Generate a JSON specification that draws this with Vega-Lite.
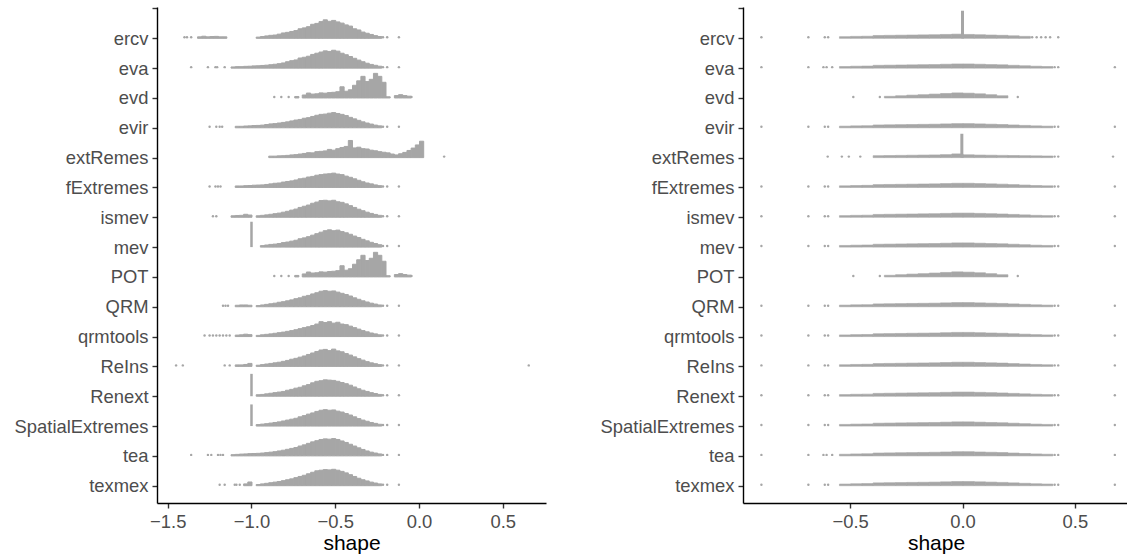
{
"$schema": "https://vega.github.io/schema/vega-lite/v6.json",
"background": "white",
"padding": {"left": 14, "top": 7, "right": 0, "bottom": 0},
"spacing": 54,
"config": {
 "view": {"stroke": null},
 "font": "Liberation Sans",
 "axis": {"grid": false, "domainColor": "#000000", "domainWidth": 1.4, "tickColor": "#333333", "tickWidth": 1.4, "tickSize": 5, "labelColor": "#4D4D4D", "labelFontSize": 18.4, "labelPadding": 4, "titleFontSize": 21, "titleColor": "#000000", "titleFontWeight": "normal", "titlePadding": 2},
 "axisY": {"values": [1,2,3,4,5,6,7,8,9,10,11,12,13,14,15,16], "labelExpr": "['ercv','eva','evd','evir','extRemes','fExtremes','ismev','mev','POT','QRM','qrmtools','ReIns','Renext','SpatialExtremes','tea','texmex'][datum.value-1]"}
},
"datasets": {
"L": [
{"p":"ercv","x":-1.325,"n":1},{"p":"ercv","x":-1.3,"n":1.4},{"p":"ercv","x":-1.275,"n":1},{"p":"ercv","x":-1.25,"n":1.2},{"p":"ercv","x":-1.225,"n":1.3},{"p":"ercv","x":-1.2,"n":1},{"p":"ercv","x":-1.175,"n":1},
{"p":"ercv","x":-0.975,"n":0.8},{"p":"ercv","x":-0.95,"n":1.2},{"p":"ercv","x":-0.925,"n":1.6},{"p":"ercv","x":-0.9,"n":2},{"p":"ercv","x":-0.875,"n":2.2},{"p":"ercv","x":-0.85,"n":2.8},{"p":"ercv","x":-0.825,"n":3.6},{"p":"ercv","x":-0.8,"n":4},{"p":"ercv","x":-0.775,"n":4.6},{"p":"ercv","x":-0.75,"n":5.2},{"p":"ercv","x":-0.725,"n":6.4},{"p":"ercv","x":-0.7,"n":7},{"p":"ercv","x":-0.675,"n":7.8},{"p":"ercv","x":-0.65,"n":9.4},{"p":"ercv","x":-0.625,"n":10},{"p":"ercv","x":-0.6,"n":11.2},{"p":"ercv","x":-0.575,"n":12.4},{"p":"ercv","x":-0.55,"n":11.4},{"p":"ercv","x":-0.525,"n":12},{"p":"ercv","x":-0.5,"n":11},{"p":"ercv","x":-0.475,"n":10.2},{"p":"ercv","x":-0.45,"n":9},{"p":"ercv","x":-0.425,"n":8.2},{"p":"ercv","x":-0.4,"n":6.4},{"p":"ercv","x":-0.375,"n":5.6},{"p":"ercv","x":-0.35,"n":4.2},{"p":"ercv","x":-0.325,"n":3.4},{"p":"ercv","x":-0.3,"n":2.6},{"p":"ercv","x":-0.275,"n":1.8},{"p":"ercv","x":-0.25,"n":1.2},
{"p":"eva","x":-1.125,"n":0.8},{"p":"eva","x":-1.1,"n":1},{"p":"eva","x":-1.075,"n":1},{"p":"eva","x":-1.05,"n":1.2},{"p":"eva","x":-1.025,"n":1.3},{"p":"eva","x":-1.0,"n":1.5},
{"p":"eva","x":-0.975,"n":1.6},{"p":"eva","x":-0.95,"n":1.8},{"p":"eva","x":-0.925,"n":2},{"p":"eva","x":-0.9,"n":2.3},{"p":"eva","x":-0.875,"n":2.6},{"p":"eva","x":-0.85,"n":3},{"p":"eva","x":-0.825,"n":3.5},{"p":"eva","x":-0.8,"n":4.3},{"p":"eva","x":-0.775,"n":5},{"p":"eva","x":-0.75,"n":5.5},{"p":"eva","x":-0.725,"n":6.8},{"p":"eva","x":-0.7,"n":7.3},{"p":"eva","x":-0.675,"n":8},{"p":"eva","x":-0.65,"n":9.2},{"p":"eva","x":-0.625,"n":10},{"p":"eva","x":-0.6,"n":10.8},{"p":"eva","x":-0.575,"n":11.6},{"p":"eva","x":-0.55,"n":11.2},{"p":"eva","x":-0.525,"n":12},{"p":"eva","x":-0.5,"n":11.4},{"p":"eva","x":-0.475,"n":10},{"p":"eva","x":-0.45,"n":9},{"p":"eva","x":-0.425,"n":7.8},{"p":"eva","x":-0.4,"n":6.6},{"p":"eva","x":-0.375,"n":5.4},{"p":"eva","x":-0.35,"n":4.3},{"p":"eva","x":-0.325,"n":3.3},{"p":"eva","x":-0.3,"n":2.5},{"p":"eva","x":-0.275,"n":1.9},{"p":"eva","x":-0.25,"n":1.3},
{"p":"evd","x":-0.745,"n":1},{"p":"evd","x":-0.7,"n":2},{"p":"evd","x":-0.675,"n":3.3},{"p":"evd","x":-0.65,"n":2.6},{"p":"evd","x":-0.625,"n":2.8},{"p":"evd","x":-0.6,"n":3.4},{"p":"evd","x":-0.575,"n":3.2},{"p":"evd","x":-0.55,"n":3.6},{"p":"evd","x":-0.525,"n":3.8},{"p":"evd","x":-0.5,"n":4.2},{"p":"evd","x":-0.475,"n":7.5},{"p":"evd","x":-0.45,"n":4.5},{"p":"evd","x":-0.425,"n":5.5},{"p":"evd","x":-0.4,"n":8.5},{"p":"evd","x":-0.375,"n":11.5},{"p":"evd","x":-0.35,"n":14.5},{"p":"evd","x":-0.325,"n":11},{"p":"evd","x":-0.3,"n":12.5},{"p":"evd","x":-0.275,"n":16.5},{"p":"evd","x":-0.25,"n":14.5},{"p":"evd","x":-0.225,"n":10.5},{"p":"evd","x":-0.2,"n":0.8},{"p":"evd","x":-0.15,"n":1.6},{"p":"evd","x":-0.125,"n":2.2},{"p":"evd","x":-0.1,"n":1.6},{"p":"evd","x":-0.075,"n":1.2},
{"p":"evir","x":-1.1,"n":1},{"p":"evir","x":-1.075,"n":1},{"p":"evir","x":-1.05,"n":1.2},{"p":"evir","x":-1.025,"n":1.3},{"p":"evir","x":-1.0,"n":1.5},
{"p":"evir","x":-0.975,"n":1.6},{"p":"evir","x":-0.95,"n":1.8},{"p":"evir","x":-0.925,"n":2.2},{"p":"evir","x":-0.9,"n":2.6},{"p":"evir","x":-0.875,"n":2.8},{"p":"evir","x":-0.85,"n":3.2},{"p":"evir","x":-0.825,"n":3.6},{"p":"evir","x":-0.8,"n":4},{"p":"evir","x":-0.775,"n":4.6},{"p":"evir","x":-0.75,"n":5.2},{"p":"evir","x":-0.725,"n":5.6},{"p":"evir","x":-0.7,"n":6.4},{"p":"evir","x":-0.675,"n":6.8},{"p":"evir","x":-0.65,"n":7.6},{"p":"evir","x":-0.625,"n":8.4},{"p":"evir","x":-0.6,"n":9},{"p":"evir","x":-0.575,"n":9.2},{"p":"evir","x":-0.55,"n":9.8},{"p":"evir","x":-0.525,"n":10.2},{"p":"evir","x":-0.5,"n":9.6},{"p":"evir","x":-0.475,"n":9},{"p":"evir","x":-0.45,"n":8.2},{"p":"evir","x":-0.425,"n":7},{"p":"evir","x":-0.4,"n":6},{"p":"evir","x":-0.375,"n":5},{"p":"evir","x":-0.35,"n":4},{"p":"evir","x":-0.325,"n":3.2},{"p":"evir","x":-0.3,"n":2.5},{"p":"evir","x":-0.275,"n":1.8},{"p":"evir","x":-0.25,"n":1.3},
{"p":"extRemes","x":-0.9,"n":1},{"p":"extRemes","x":-0.875,"n":1},{"p":"extRemes","x":-0.85,"n":1.2},{"p":"extRemes","x":-0.825,"n":1.3},{"p":"extRemes","x":-0.8,"n":1.5},{"p":"extRemes","x":-0.775,"n":1.8},{"p":"extRemes","x":-0.75,"n":2},{"p":"extRemes","x":-0.725,"n":2.4},{"p":"extRemes","x":-0.7,"n":2.8},{"p":"extRemes","x":-0.675,"n":3.3},{"p":"extRemes","x":-0.65,"n":3.2},{"p":"extRemes","x":-0.625,"n":4},{"p":"extRemes","x":-0.6,"n":4.2},{"p":"extRemes","x":-0.575,"n":4.5},{"p":"extRemes","x":-0.55,"n":5.5},{"p":"extRemes","x":-0.525,"n":5},{"p":"extRemes","x":-0.5,"n":6},{"p":"extRemes","x":-0.475,"n":6.8},{"p":"extRemes","x":-0.45,"n":7.5},{"p":"extRemes","x":-0.425,"n":11.5},{"p":"extRemes","x":-0.4,"n":6.5},{"p":"extRemes","x":-0.375,"n":7},{"p":"extRemes","x":-0.35,"n":6},{"p":"extRemes","x":-0.325,"n":5.8},{"p":"extRemes","x":-0.3,"n":5},{"p":"extRemes","x":-0.275,"n":4.6},{"p":"extRemes","x":-0.25,"n":4},{"p":"extRemes","x":-0.225,"n":3.6},{"p":"extRemes","x":-0.2,"n":3.2},{"p":"extRemes","x":-0.175,"n":2.4},{"p":"extRemes","x":-0.15,"n":1.8},{"p":"extRemes","x":-0.125,"n":2.6},{"p":"extRemes","x":-0.1,"n":3.5},{"p":"extRemes","x":-0.075,"n":4.8},{"p":"extRemes","x":-0.05,"n":6.4},{"p":"extRemes","x":-0.025,"n":8.5},{"p":"extRemes","x":0.0,"n":11},
{"p":"fExtremes","x":-1.1,"n":1},{"p":"fExtremes","x":-1.075,"n":1},{"p":"fExtremes","x":-1.05,"n":1.2},{"p":"fExtremes","x":-1.025,"n":1.3},{"p":"fExtremes","x":-1.0,"n":1.5},
{"p":"fExtremes","x":-0.975,"n":1.6},{"p":"fExtremes","x":-0.95,"n":1.7},{"p":"fExtremes","x":-0.925,"n":2},{"p":"fExtremes","x":-0.9,"n":2.4},{"p":"fExtremes","x":-0.875,"n":2.8},{"p":"fExtremes","x":-0.85,"n":3},{"p":"fExtremes","x":-0.825,"n":3.6},{"p":"fExtremes","x":-0.8,"n":4},{"p":"fExtremes","x":-0.775,"n":4.4},{"p":"fExtremes","x":-0.75,"n":5},{"p":"fExtremes","x":-0.725,"n":5.8},{"p":"fExtremes","x":-0.7,"n":6.2},{"p":"fExtremes","x":-0.675,"n":7},{"p":"fExtremes","x":-0.65,"n":7.4},{"p":"fExtremes","x":-0.625,"n":8.2},{"p":"fExtremes","x":-0.6,"n":8.6},{"p":"fExtremes","x":-0.575,"n":9},{"p":"fExtremes","x":-0.55,"n":9.2},{"p":"fExtremes","x":-0.525,"n":9.6},{"p":"fExtremes","x":-0.5,"n":9},{"p":"fExtremes","x":-0.475,"n":8.6},{"p":"fExtremes","x":-0.45,"n":7.6},{"p":"fExtremes","x":-0.425,"n":6.8},{"p":"fExtremes","x":-0.4,"n":5.8},{"p":"fExtremes","x":-0.375,"n":4.8},{"p":"fExtremes","x":-0.35,"n":3.8},{"p":"fExtremes","x":-0.325,"n":3},{"p":"fExtremes","x":-0.3,"n":2.4},{"p":"fExtremes","x":-0.275,"n":1.7},{"p":"fExtremes","x":-0.25,"n":1.2},
{"p":"ismev","x":-1.125,"n":1},{"p":"ismev","x":-1.1,"n":1.2},{"p":"ismev","x":-1.075,"n":1.3},{"p":"ismev","x":-1.05,"n":2},{"p":"ismev","x":-1.025,"n":1.5},
{"p":"ismev","x":-0.975,"n":1},{"p":"ismev","x":-0.95,"n":1.3},{"p":"ismev","x":-0.925,"n":1.6},{"p":"ismev","x":-0.9,"n":2},{"p":"ismev","x":-0.875,"n":2.4},{"p":"ismev","x":-0.85,"n":2.8},{"p":"ismev","x":-0.825,"n":3.4},{"p":"ismev","x":-0.8,"n":4},{"p":"ismev","x":-0.775,"n":4.8},{"p":"ismev","x":-0.75,"n":5.5},{"p":"ismev","x":-0.725,"n":6.6},{"p":"ismev","x":-0.7,"n":7.4},{"p":"ismev","x":-0.675,"n":8.2},{"p":"ismev","x":-0.65,"n":9.4},{"p":"ismev","x":-0.625,"n":10.2},{"p":"ismev","x":-0.6,"n":11.2},{"p":"ismev","x":-0.575,"n":11.4},{"p":"ismev","x":-0.55,"n":11},{"p":"ismev","x":-0.525,"n":11.4},{"p":"ismev","x":-0.5,"n":10.4},{"p":"ismev","x":-0.475,"n":10},{"p":"ismev","x":-0.45,"n":9},{"p":"ismev","x":-0.425,"n":7.8},{"p":"ismev","x":-0.4,"n":6.6},{"p":"ismev","x":-0.375,"n":5.4},{"p":"ismev","x":-0.35,"n":4.4},{"p":"ismev","x":-0.325,"n":3.4},{"p":"ismev","x":-0.3,"n":2.6},{"p":"ismev","x":-0.275,"n":1.9},{"p":"ismev","x":-0.25,"n":1.3},
{"p":"mev","x":-0.95,"n":1},{"p":"mev","x":-0.925,"n":1.4},{"p":"mev","x":-0.9,"n":1.8},{"p":"mev","x":-0.875,"n":2},{"p":"mev","x":-0.85,"n":2.4},{"p":"mev","x":-0.825,"n":3},{"p":"mev","x":-0.8,"n":3.4},{"p":"mev","x":-0.775,"n":4},{"p":"mev","x":-0.75,"n":4.6},{"p":"mev","x":-0.725,"n":5.6},{"p":"mev","x":-0.7,"n":6.2},{"p":"mev","x":-0.675,"n":7},{"p":"mev","x":-0.65,"n":8},{"p":"mev","x":-0.625,"n":9},{"p":"mev","x":-0.6,"n":10},{"p":"mev","x":-0.575,"n":11},{"p":"mev","x":-0.55,"n":11.6},{"p":"mev","x":-0.525,"n":11},{"p":"mev","x":-0.5,"n":11.4},{"p":"mev","x":-0.475,"n":10.4},{"p":"mev","x":-0.45,"n":9.6},{"p":"mev","x":-0.425,"n":8.6},{"p":"mev","x":-0.4,"n":7.4},{"p":"mev","x":-0.375,"n":6.4},{"p":"mev","x":-0.35,"n":5.2},{"p":"mev","x":-0.325,"n":4.2},{"p":"mev","x":-0.3,"n":3.2},{"p":"mev","x":-0.275,"n":2.4},{"p":"mev","x":-0.25,"n":1.6},
{"p":"POT","x":-0.745,"n":1},{"p":"POT","x":-0.7,"n":2},{"p":"POT","x":-0.675,"n":3.3},{"p":"POT","x":-0.65,"n":2.6},{"p":"POT","x":-0.625,"n":2.8},{"p":"POT","x":-0.6,"n":3.4},{"p":"POT","x":-0.575,"n":3.2},{"p":"POT","x":-0.55,"n":3.6},{"p":"POT","x":-0.525,"n":3.8},{"p":"POT","x":-0.5,"n":4.2},{"p":"POT","x":-0.475,"n":7.5},{"p":"POT","x":-0.45,"n":4.5},{"p":"POT","x":-0.425,"n":5.5},{"p":"POT","x":-0.4,"n":8.5},{"p":"POT","x":-0.375,"n":11.5},{"p":"POT","x":-0.35,"n":14.5},{"p":"POT","x":-0.325,"n":11},{"p":"POT","x":-0.3,"n":12.5},{"p":"POT","x":-0.275,"n":16.5},{"p":"POT","x":-0.25,"n":14.5},{"p":"POT","x":-0.225,"n":10.5},{"p":"POT","x":-0.2,"n":0.8},{"p":"POT","x":-0.15,"n":1.6},{"p":"POT","x":-0.125,"n":2.2},{"p":"POT","x":-0.1,"n":1.6},{"p":"POT","x":-0.075,"n":1.2},
{"p":"QRM","x":-1.1,"n":1},{"p":"QRM","x":-1.075,"n":1.2},{"p":"QRM","x":-1.05,"n":1.2},{"p":"QRM","x":-1.025,"n":1},
{"p":"QRM","x":-0.975,"n":0.8},{"p":"QRM","x":-0.95,"n":1.2},{"p":"QRM","x":-0.925,"n":1.6},{"p":"QRM","x":-0.9,"n":2},{"p":"QRM","x":-0.875,"n":2.4},{"p":"QRM","x":-0.85,"n":3},{"p":"QRM","x":-0.825,"n":3.4},{"p":"QRM","x":-0.8,"n":4},{"p":"QRM","x":-0.775,"n":4.6},{"p":"QRM","x":-0.75,"n":5.4},{"p":"QRM","x":-0.725,"n":6},{"p":"QRM","x":-0.7,"n":7},{"p":"QRM","x":-0.675,"n":7.6},{"p":"QRM","x":-0.65,"n":8.6},{"p":"QRM","x":-0.625,"n":9.4},{"p":"QRM","x":-0.6,"n":10.4},{"p":"QRM","x":-0.575,"n":10.8},{"p":"QRM","x":-0.55,"n":10.4},{"p":"QRM","x":-0.525,"n":10.6},{"p":"QRM","x":-0.5,"n":9.8},{"p":"QRM","x":-0.475,"n":9},{"p":"QRM","x":-0.45,"n":8.2},{"p":"QRM","x":-0.425,"n":7.2},{"p":"QRM","x":-0.4,"n":6},{"p":"QRM","x":-0.375,"n":5},{"p":"QRM","x":-0.35,"n":4},{"p":"QRM","x":-0.325,"n":3.2},{"p":"QRM","x":-0.3,"n":2.4},{"p":"QRM","x":-0.275,"n":1.8},{"p":"QRM","x":-0.25,"n":1.2},
{"p":"qrmtools","x":-1.1,"n":1},{"p":"qrmtools","x":-1.075,"n":1.2},{"p":"qrmtools","x":-1.05,"n":1.6},{"p":"qrmtools","x":-1.025,"n":1.3},
{"p":"qrmtools","x":-0.975,"n":0.8},{"p":"qrmtools","x":-0.95,"n":1.2},{"p":"qrmtools","x":-0.925,"n":1.5},{"p":"qrmtools","x":-0.9,"n":1.8},{"p":"qrmtools","x":-0.875,"n":2.2},{"p":"qrmtools","x":-0.85,"n":2.6},{"p":"qrmtools","x":-0.825,"n":3},{"p":"qrmtools","x":-0.8,"n":3.5},{"p":"qrmtools","x":-0.775,"n":4},{"p":"qrmtools","x":-0.75,"n":4.6},{"p":"qrmtools","x":-0.725,"n":5.3},{"p":"qrmtools","x":-0.7,"n":6},{"p":"qrmtools","x":-0.675,"n":6.6},{"p":"qrmtools","x":-0.65,"n":7.4},{"p":"qrmtools","x":-0.625,"n":8.4},{"p":"qrmtools","x":-0.6,"n":10},{"p":"qrmtools","x":-0.575,"n":9.4},{"p":"qrmtools","x":-0.55,"n":10},{"p":"qrmtools","x":-0.525,"n":9},{"p":"qrmtools","x":-0.5,"n":9.6},{"p":"qrmtools","x":-0.475,"n":8.4},{"p":"qrmtools","x":-0.45,"n":8},{"p":"qrmtools","x":-0.425,"n":7},{"p":"qrmtools","x":-0.4,"n":6},{"p":"qrmtools","x":-0.375,"n":5},{"p":"qrmtools","x":-0.35,"n":4},{"p":"qrmtools","x":-0.325,"n":3.2},{"p":"qrmtools","x":-0.3,"n":2.4},{"p":"qrmtools","x":-0.275,"n":1.8},{"p":"qrmtools","x":-0.25,"n":1.2},
{"p":"ReIns","x":-1.1,"n":1},{"p":"ReIns","x":-1.075,"n":1},{"p":"ReIns","x":-1.05,"n":1.3},{"p":"ReIns","x":-1.025,"n":2},
{"p":"ReIns","x":-0.975,"n":0.8},{"p":"ReIns","x":-0.95,"n":1.2},{"p":"ReIns","x":-0.925,"n":1.6},{"p":"ReIns","x":-0.9,"n":2},{"p":"ReIns","x":-0.875,"n":2.4},{"p":"ReIns","x":-0.85,"n":2.8},{"p":"ReIns","x":-0.825,"n":3.4},{"p":"ReIns","x":-0.8,"n":4},{"p":"ReIns","x":-0.775,"n":4.8},{"p":"ReIns","x":-0.75,"n":5.4},{"p":"ReIns","x":-0.725,"n":6.2},{"p":"ReIns","x":-0.7,"n":7},{"p":"ReIns","x":-0.675,"n":8},{"p":"ReIns","x":-0.65,"n":9},{"p":"ReIns","x":-0.625,"n":10},{"p":"ReIns","x":-0.6,"n":11},{"p":"ReIns","x":-0.575,"n":11.4},{"p":"ReIns","x":-0.55,"n":10.6},{"p":"ReIns","x":-0.525,"n":11.6},{"p":"ReIns","x":-0.5,"n":10.4},{"p":"ReIns","x":-0.475,"n":9.8},{"p":"ReIns","x":-0.45,"n":8.6},{"p":"ReIns","x":-0.425,"n":7.6},{"p":"ReIns","x":-0.4,"n":6.4},{"p":"ReIns","x":-0.375,"n":5.2},{"p":"ReIns","x":-0.35,"n":4.2},{"p":"ReIns","x":-0.325,"n":3.2},{"p":"ReIns","x":-0.3,"n":2.4},{"p":"ReIns","x":-0.275,"n":1.8},{"p":"ReIns","x":-0.25,"n":1.2},
{"p":"Renext","x":-0.975,"n":1},{"p":"Renext","x":-0.95,"n":1.2},{"p":"Renext","x":-0.925,"n":1.6},{"p":"Renext","x":-0.9,"n":2},{"p":"Renext","x":-0.875,"n":2.4},{"p":"Renext","x":-0.85,"n":2.8},{"p":"Renext","x":-0.825,"n":3.2},{"p":"Renext","x":-0.8,"n":4},{"p":"Renext","x":-0.775,"n":4.6},{"p":"Renext","x":-0.75,"n":5.4},{"p":"Renext","x":-0.725,"n":6},{"p":"Renext","x":-0.7,"n":7},{"p":"Renext","x":-0.675,"n":7.8},{"p":"Renext","x":-0.65,"n":9},{"p":"Renext","x":-0.625,"n":10},{"p":"Renext","x":-0.6,"n":10.4},{"p":"Renext","x":-0.575,"n":11},{"p":"Renext","x":-0.55,"n":10.8},{"p":"Renext","x":-0.525,"n":10.6},{"p":"Renext","x":-0.5,"n":10},{"p":"Renext","x":-0.475,"n":9.2},{"p":"Renext","x":-0.45,"n":8.4},{"p":"Renext","x":-0.425,"n":7.4},{"p":"Renext","x":-0.4,"n":6.2},{"p":"Renext","x":-0.375,"n":5},{"p":"Renext","x":-0.35,"n":4},{"p":"Renext","x":-0.325,"n":3.2},{"p":"Renext","x":-0.3,"n":2.4},{"p":"Renext","x":-0.275,"n":1.8},{"p":"Renext","x":-0.25,"n":1.2},
{"p":"SpatialExtremes","x":-0.975,"n":1},{"p":"SpatialExtremes","x":-0.95,"n":1.3},{"p":"SpatialExtremes","x":-0.925,"n":1.6},{"p":"SpatialExtremes","x":-0.9,"n":2},{"p":"SpatialExtremes","x":-0.875,"n":2.4},{"p":"SpatialExtremes","x":-0.85,"n":2.8},{"p":"SpatialExtremes","x":-0.825,"n":3.4},{"p":"SpatialExtremes","x":-0.8,"n":4},{"p":"SpatialExtremes","x":-0.775,"n":4.6},{"p":"SpatialExtremes","x":-0.75,"n":5.2},{"p":"SpatialExtremes","x":-0.725,"n":6.2},{"p":"SpatialExtremes","x":-0.7,"n":7},{"p":"SpatialExtremes","x":-0.675,"n":8},{"p":"SpatialExtremes","x":-0.65,"n":8.8},{"p":"SpatialExtremes","x":-0.625,"n":9.8},{"p":"SpatialExtremes","x":-0.6,"n":10.6},{"p":"SpatialExtremes","x":-0.575,"n":11},{"p":"SpatialExtremes","x":-0.55,"n":10.6},{"p":"SpatialExtremes","x":-0.525,"n":10.8},{"p":"SpatialExtremes","x":-0.5,"n":10},{"p":"SpatialExtremes","x":-0.475,"n":9.4},{"p":"SpatialExtremes","x":-0.45,"n":8.4},{"p":"SpatialExtremes","x":-0.425,"n":7.4},{"p":"SpatialExtremes","x":-0.4,"n":6.2},{"p":"SpatialExtremes","x":-0.375,"n":5},{"p":"SpatialExtremes","x":-0.35,"n":4},{"p":"SpatialExtremes","x":-0.325,"n":3.2},{"p":"SpatialExtremes","x":-0.3,"n":2.4},{"p":"SpatialExtremes","x":-0.275,"n":1.8},{"p":"SpatialExtremes","x":-0.25,"n":1.2},
{"p":"tea","x":-1.125,"n":0.8},{"p":"tea","x":-1.1,"n":1},{"p":"tea","x":-1.075,"n":1.2},{"p":"tea","x":-1.05,"n":1.3},{"p":"tea","x":-1.025,"n":1.5},{"p":"tea","x":-1.0,"n":1.6},
{"p":"tea","x":-0.975,"n":1.7},{"p":"tea","x":-0.95,"n":1.9},{"p":"tea","x":-0.925,"n":2.2},{"p":"tea","x":-0.9,"n":2.5},{"p":"tea","x":-0.875,"n":2.8},{"p":"tea","x":-0.85,"n":3.3},{"p":"tea","x":-0.825,"n":3.8},{"p":"tea","x":-0.8,"n":4.4},{"p":"tea","x":-0.775,"n":5},{"p":"tea","x":-0.75,"n":5.6},{"p":"tea","x":-0.725,"n":6.6},{"p":"tea","x":-0.7,"n":7.4},{"p":"tea","x":-0.675,"n":8.4},{"p":"tea","x":-0.65,"n":9.4},{"p":"tea","x":-0.625,"n":10.2},{"p":"tea","x":-0.6,"n":11},{"p":"tea","x":-0.575,"n":11.4},{"p":"tea","x":-0.55,"n":11.2},{"p":"tea","x":-0.525,"n":11.6},{"p":"tea","x":-0.5,"n":11},{"p":"tea","x":-0.475,"n":10},{"p":"tea","x":-0.45,"n":9},{"p":"tea","x":-0.425,"n":7.8},{"p":"tea","x":-0.4,"n":6.6},{"p":"tea","x":-0.375,"n":5.4},{"p":"tea","x":-0.35,"n":4.3},{"p":"tea","x":-0.325,"n":3.3},{"p":"tea","x":-0.3,"n":2.5},{"p":"tea","x":-0.275,"n":1.9},{"p":"tea","x":-0.25,"n":1.3},
{"p":"texmex","x":-1.05,"n":1.2},{"p":"texmex","x":-1.025,"n":2.5},
{"p":"texmex","x":-0.975,"n":0.8},{"p":"texmex","x":-0.95,"n":1.2},{"p":"texmex","x":-0.925,"n":1.6},{"p":"texmex","x":-0.9,"n":2},{"p":"texmex","x":-0.875,"n":2.4},{"p":"texmex","x":-0.85,"n":2.8},{"p":"texmex","x":-0.825,"n":3.4},{"p":"texmex","x":-0.8,"n":4},{"p":"texmex","x":-0.775,"n":4.6},{"p":"texmex","x":-0.75,"n":5.4},{"p":"texmex","x":-0.725,"n":6.2},{"p":"texmex","x":-0.7,"n":7},{"p":"texmex","x":-0.675,"n":8},{"p":"texmex","x":-0.65,"n":9},{"p":"texmex","x":-0.625,"n":10},{"p":"texmex","x":-0.6,"n":10.4},{"p":"texmex","x":-0.575,"n":10.8},{"p":"texmex","x":-0.55,"n":10.6},{"p":"texmex","x":-0.525,"n":11},{"p":"texmex","x":-0.5,"n":10.4},{"p":"texmex","x":-0.475,"n":9.6},{"p":"texmex","x":-0.45,"n":8.6},{"p":"texmex","x":-0.425,"n":7.4},{"p":"texmex","x":-0.4,"n":6.2},{"p":"texmex","x":-0.375,"n":5},{"p":"texmex","x":-0.35,"n":4},{"p":"texmex","x":-0.325,"n":3.2},{"p":"texmex","x":-0.3,"n":2.4},{"p":"texmex","x":-0.275,"n":1.8},{"p":"texmex","x":-0.25,"n":1.2}
],
"LD": [
{"p":"ercv","x":-1.4},{"p":"ercv","x":-1.385},{"p":"ercv","x":-1.36},{"p":"ercv","x":-0.215},{"p":"ercv","x":-0.19},{"p":"ercv","x":-0.12},
{"p":"eva","x":-1.36},{"p":"eva","x":-1.26},{"p":"eva","x":-1.215},{"p":"eva","x":-1.205},{"p":"eva","x":-1.16},{"p":"eva","x":-0.215},{"p":"eva","x":-0.19},{"p":"eva","x":-0.12},
{"p":"evd","x":-0.864},{"p":"evd","x":-0.822},{"p":"evd","x":-0.778},{"p":"evd","x":-0.045},
{"p":"evir","x":-1.25},{"p":"evir","x":-1.21},{"p":"evir","x":-1.19},{"p":"evir","x":-1.175},{"p":"evir","x":-0.215},{"p":"evir","x":-0.19},{"p":"evir","x":-0.12},
{"p":"extRemes","x":0.15},
{"p":"fExtremes","x":-1.25},{"p":"fExtremes","x":-1.215},{"p":"fExtremes","x":-1.2},{"p":"fExtremes","x":-1.185},{"p":"fExtremes","x":-0.215},{"p":"fExtremes","x":-0.19},{"p":"fExtremes","x":-0.12},
{"p":"ismev","x":-1.23},{"p":"ismev","x":-1.21},{"p":"ismev","x":-0.215},{"p":"ismev","x":-0.19},{"p":"ismev","x":-0.12},
{"p":"mev","x":-0.215},{"p":"mev","x":-0.19},{"p":"mev","x":-0.12},
{"p":"POT","x":-0.864},{"p":"POT","x":-0.822},{"p":"POT","x":-0.778},{"p":"POT","x":-0.045},
{"p":"QRM","x":-1.17},{"p":"QRM","x":-1.155},{"p":"QRM","x":-1.14},{"p":"QRM","x":-0.215},{"p":"QRM","x":-0.19},{"p":"QRM","x":-0.12},
{"p":"qrmtools","x":-1.28},{"p":"qrmtools","x":-1.25},{"p":"qrmtools","x":-1.23},{"p":"qrmtools","x":-1.21},{"p":"qrmtools","x":-1.19},{"p":"qrmtools","x":-1.17},{"p":"qrmtools","x":-1.15},{"p":"qrmtools","x":-1.13},{"p":"qrmtools","x":-0.215},{"p":"qrmtools","x":-0.19},{"p":"qrmtools","x":-0.12},
{"p":"ReIns","x":-1.45},{"p":"ReIns","x":-1.41},{"p":"ReIns","x":-1.16},{"p":"ReIns","x":-1.13},{"p":"ReIns","x":-0.215},{"p":"ReIns","x":-0.19},{"p":"ReIns","x":-0.12},{"p":"ReIns","x":0.655},
{"p":"Renext","x":-0.215},{"p":"Renext","x":-0.19},{"p":"Renext","x":-0.12},
{"p":"SpatialExtremes","x":-0.215},{"p":"SpatialExtremes","x":-0.19},{"p":"SpatialExtremes","x":-0.12},
{"p":"tea","x":-1.36},{"p":"tea","x":-1.26},{"p":"tea","x":-1.24},{"p":"tea","x":-1.2},{"p":"tea","x":-1.185},{"p":"tea","x":-1.17},{"p":"tea","x":-0.215},{"p":"tea","x":-0.19},{"p":"tea","x":-0.12},
{"p":"texmex","x":-1.19},{"p":"texmex","x":-1.16},{"p":"texmex","x":-1.1},{"p":"texmex","x":-1.09},{"p":"texmex","x":-1.07},{"p":"texmex","x":-0.215},{"p":"texmex","x":-0.19},{"p":"texmex","x":-0.12}
],
"LS": [
{"p":"mev","x":-1.0,"n":17},{"p":"Renext","x":-1.0,"n":15},{"p":"SpatialExtremes","x":-1.0,"n":14.5}
],
"R": [
{"p":"ercv","x":-0.55,"n":1.1},{"p":"ercv","x":-0.5,"n":1.3},{"p":"ercv","x":-0.45,"n":1.4},{"p":"ercv","x":-0.4,"n":1.9},{"p":"ercv","x":-0.35,"n":2},{"p":"ercv","x":-0.3,"n":2.1},{"p":"ercv","x":-0.25,"n":2.2},{"p":"ercv","x":-0.2,"n":2.3},{"p":"ercv","x":-0.15,"n":2.4},{"p":"ercv","x":-0.1,"n":2.6},{"p":"ercv","x":-0.05,"n":2.8},{"p":"ercv","x":0,"n":2.6},{"p":"ercv","x":0.05,"n":2.4},{"p":"ercv","x":0.1,"n":2.2},{"p":"ercv","x":0.15,"n":2},{"p":"ercv","x":0.2,"n":1.7},{"p":"ercv","x":0.25,"n":1.3},
{"p":"eva","x":-0.55,"n":1.1},{"p":"eva","x":-0.5,"n":1.3},{"p":"eva","x":-0.45,"n":1.4},{"p":"eva","x":-0.4,"n":1.9},{"p":"eva","x":-0.35,"n":2},{"p":"eva","x":-0.3,"n":2.1},{"p":"eva","x":-0.25,"n":2.2},{"p":"eva","x":-0.2,"n":2.3},{"p":"eva","x":-0.15,"n":2.4},{"p":"eva","x":-0.1,"n":2.6},{"p":"eva","x":-0.05,"n":2.8},{"p":"eva","x":0,"n":2.8},{"p":"eva","x":0.05,"n":2.6},{"p":"eva","x":0.1,"n":2.4},{"p":"eva","x":0.15,"n":2.2},{"p":"eva","x":0.2,"n":1.9},{"p":"eva","x":0.25,"n":1.6},{"p":"eva","x":0.3,"n":1.3},{"p":"eva","x":0.35,"n":1.1},
{"p":"evd","x":-0.35,"n":1.1},{"p":"evd","x":-0.3,"n":1.5},{"p":"evd","x":-0.25,"n":1.9},{"p":"evd","x":-0.2,"n":2.2},{"p":"evd","x":-0.15,"n":2.6},{"p":"evd","x":-0.1,"n":3},{"p":"evd","x":-0.05,"n":3.4},{"p":"evd","x":0,"n":3.2},{"p":"evd","x":0.05,"n":2.8},{"p":"evd","x":0.1,"n":2.2},{"p":"evd","x":0.15,"n":1.5},
{"p":"evir","x":-0.55,"n":1.1},{"p":"evir","x":-0.5,"n":1.3},{"p":"evir","x":-0.45,"n":1.4},{"p":"evir","x":-0.4,"n":1.9},{"p":"evir","x":-0.35,"n":2},{"p":"evir","x":-0.3,"n":2.1},{"p":"evir","x":-0.25,"n":2.2},{"p":"evir","x":-0.2,"n":2.3},{"p":"evir","x":-0.15,"n":2.4},{"p":"evir","x":-0.1,"n":2.6},{"p":"evir","x":-0.05,"n":2.8},{"p":"evir","x":0,"n":2.8},{"p":"evir","x":0.05,"n":2.6},{"p":"evir","x":0.1,"n":2.4},{"p":"evir","x":0.15,"n":2.2},{"p":"evir","x":0.2,"n":1.9},{"p":"evir","x":0.25,"n":1.6},{"p":"evir","x":0.3,"n":1.3},{"p":"evir","x":0.35,"n":1.1},
{"p":"extRemes","x":-0.4,"n":1.3},{"p":"extRemes","x":-0.35,"n":1.4},{"p":"extRemes","x":-0.3,"n":1.5},{"p":"extRemes","x":-0.25,"n":1.6},{"p":"extRemes","x":-0.2,"n":1.7},{"p":"extRemes","x":-0.15,"n":1.8},{"p":"extRemes","x":-0.1,"n":2},{"p":"extRemes","x":-0.05,"n":2.5},{"p":"extRemes","x":0,"n":1.9},{"p":"extRemes","x":0.05,"n":1.7},{"p":"extRemes","x":0.1,"n":1.6},{"p":"extRemes","x":0.15,"n":1.5},{"p":"extRemes","x":0.2,"n":1.4},{"p":"extRemes","x":0.25,"n":1.3},{"p":"extRemes","x":0.3,"n":1.2},{"p":"extRemes","x":0.35,"n":1.1},
{"p":"fExtremes","x":-0.55,"n":1.1},{"p":"fExtremes","x":-0.5,"n":1.3},{"p":"fExtremes","x":-0.45,"n":1.4},{"p":"fExtremes","x":-0.4,"n":1.9},{"p":"fExtremes","x":-0.35,"n":2},{"p":"fExtremes","x":-0.3,"n":2.1},{"p":"fExtremes","x":-0.25,"n":2.2},{"p":"fExtremes","x":-0.2,"n":2.3},{"p":"fExtremes","x":-0.15,"n":2.4},{"p":"fExtremes","x":-0.1,"n":2.6},{"p":"fExtremes","x":-0.05,"n":2.8},{"p":"fExtremes","x":0,"n":2.8},{"p":"fExtremes","x":0.05,"n":2.6},{"p":"fExtremes","x":0.1,"n":2.4},{"p":"fExtremes","x":0.15,"n":2.2},{"p":"fExtremes","x":0.2,"n":1.9},{"p":"fExtremes","x":0.25,"n":1.6},{"p":"fExtremes","x":0.3,"n":1.3},{"p":"fExtremes","x":0.35,"n":1.1},
{"p":"ismev","x":-0.55,"n":1.1},{"p":"ismev","x":-0.5,"n":1.3},{"p":"ismev","x":-0.45,"n":1.4},{"p":"ismev","x":-0.4,"n":1.9},{"p":"ismev","x":-0.35,"n":2},{"p":"ismev","x":-0.3,"n":2.1},{"p":"ismev","x":-0.25,"n":2.2},{"p":"ismev","x":-0.2,"n":2.3},{"p":"ismev","x":-0.15,"n":2.4},{"p":"ismev","x":-0.1,"n":2.6},{"p":"ismev","x":-0.05,"n":2.8},{"p":"ismev","x":0,"n":2.8},{"p":"ismev","x":0.05,"n":2.6},{"p":"ismev","x":0.1,"n":2.4},{"p":"ismev","x":0.15,"n":2.2},{"p":"ismev","x":0.2,"n":1.9},{"p":"ismev","x":0.25,"n":1.6},{"p":"ismev","x":0.3,"n":1.3},{"p":"ismev","x":0.35,"n":1.1},
{"p":"mev","x":-0.55,"n":1.1},{"p":"mev","x":-0.5,"n":1.3},{"p":"mev","x":-0.45,"n":1.4},{"p":"mev","x":-0.4,"n":1.9},{"p":"mev","x":-0.35,"n":2},{"p":"mev","x":-0.3,"n":2.1},{"p":"mev","x":-0.25,"n":2.2},{"p":"mev","x":-0.2,"n":2.3},{"p":"mev","x":-0.15,"n":2.4},{"p":"mev","x":-0.1,"n":2.6},{"p":"mev","x":-0.05,"n":2.8},{"p":"mev","x":0,"n":2.8},{"p":"mev","x":0.05,"n":2.6},{"p":"mev","x":0.1,"n":2.4},{"p":"mev","x":0.15,"n":2.2},{"p":"mev","x":0.2,"n":1.9},{"p":"mev","x":0.25,"n":1.6},{"p":"mev","x":0.3,"n":1.3},{"p":"mev","x":0.35,"n":1.1},
{"p":"POT","x":-0.35,"n":1.1},{"p":"POT","x":-0.3,"n":1.5},{"p":"POT","x":-0.25,"n":1.9},{"p":"POT","x":-0.2,"n":2.2},{"p":"POT","x":-0.15,"n":2.6},{"p":"POT","x":-0.1,"n":3},{"p":"POT","x":-0.05,"n":3.4},{"p":"POT","x":0,"n":3.2},{"p":"POT","x":0.05,"n":2.8},{"p":"POT","x":0.1,"n":2.2},{"p":"POT","x":0.15,"n":1.5},
{"p":"QRM","x":-0.55,"n":1.1},{"p":"QRM","x":-0.5,"n":1.3},{"p":"QRM","x":-0.45,"n":1.4},{"p":"QRM","x":-0.4,"n":1.9},{"p":"QRM","x":-0.35,"n":2},{"p":"QRM","x":-0.3,"n":2.1},{"p":"QRM","x":-0.25,"n":2.2},{"p":"QRM","x":-0.2,"n":2.3},{"p":"QRM","x":-0.15,"n":2.4},{"p":"QRM","x":-0.1,"n":2.6},{"p":"QRM","x":-0.05,"n":2.8},{"p":"QRM","x":0,"n":2.8},{"p":"QRM","x":0.05,"n":2.6},{"p":"QRM","x":0.1,"n":2.4},{"p":"QRM","x":0.15,"n":2.2},{"p":"QRM","x":0.2,"n":1.9},{"p":"QRM","x":0.25,"n":1.6},{"p":"QRM","x":0.3,"n":1.3},{"p":"QRM","x":0.35,"n":1.1},
{"p":"qrmtools","x":-0.55,"n":1.1},{"p":"qrmtools","x":-0.5,"n":1.3},{"p":"qrmtools","x":-0.45,"n":1.4},{"p":"qrmtools","x":-0.4,"n":1.9},{"p":"qrmtools","x":-0.35,"n":2},{"p":"qrmtools","x":-0.3,"n":2.1},{"p":"qrmtools","x":-0.25,"n":2.2},{"p":"qrmtools","x":-0.2,"n":2.3},{"p":"qrmtools","x":-0.15,"n":2.4},{"p":"qrmtools","x":-0.1,"n":2.6},{"p":"qrmtools","x":-0.05,"n":2.8},{"p":"qrmtools","x":0,"n":2.8},{"p":"qrmtools","x":0.05,"n":2.6},{"p":"qrmtools","x":0.1,"n":2.4},{"p":"qrmtools","x":0.15,"n":2.2},{"p":"qrmtools","x":0.2,"n":1.9},{"p":"qrmtools","x":0.25,"n":1.6},{"p":"qrmtools","x":0.3,"n":1.3},{"p":"qrmtools","x":0.35,"n":1.1},
{"p":"ReIns","x":-0.55,"n":1.1},{"p":"ReIns","x":-0.5,"n":1.3},{"p":"ReIns","x":-0.45,"n":1.4},{"p":"ReIns","x":-0.4,"n":1.9},{"p":"ReIns","x":-0.35,"n":2},{"p":"ReIns","x":-0.3,"n":2.1},{"p":"ReIns","x":-0.25,"n":2.2},{"p":"ReIns","x":-0.2,"n":2.3},{"p":"ReIns","x":-0.15,"n":2.4},{"p":"ReIns","x":-0.1,"n":2.6},{"p":"ReIns","x":-0.05,"n":2.8},{"p":"ReIns","x":0,"n":2.8},{"p":"ReIns","x":0.05,"n":2.6},{"p":"ReIns","x":0.1,"n":2.4},{"p":"ReIns","x":0.15,"n":2.2},{"p":"ReIns","x":0.2,"n":1.9},{"p":"ReIns","x":0.25,"n":1.6},{"p":"ReIns","x":0.3,"n":1.3},{"p":"ReIns","x":0.35,"n":1.1},
{"p":"Renext","x":-0.55,"n":1.1},{"p":"Renext","x":-0.5,"n":1.3},{"p":"Renext","x":-0.45,"n":1.4},{"p":"Renext","x":-0.4,"n":1.9},{"p":"Renext","x":-0.35,"n":2},{"p":"Renext","x":-0.3,"n":2.1},{"p":"Renext","x":-0.25,"n":2.2},{"p":"Renext","x":-0.2,"n":2.3},{"p":"Renext","x":-0.15,"n":2.4},{"p":"Renext","x":-0.1,"n":2.6},{"p":"Renext","x":-0.05,"n":2.8},{"p":"Renext","x":0,"n":2.8},{"p":"Renext","x":0.05,"n":2.6},{"p":"Renext","x":0.1,"n":2.4},{"p":"Renext","x":0.15,"n":2.2},{"p":"Renext","x":0.2,"n":1.9},{"p":"Renext","x":0.25,"n":1.6},{"p":"Renext","x":0.3,"n":1.3},{"p":"Renext","x":0.35,"n":1.1},
{"p":"SpatialExtremes","x":-0.55,"n":1.1},{"p":"SpatialExtremes","x":-0.5,"n":1.3},{"p":"SpatialExtremes","x":-0.45,"n":1.4},{"p":"SpatialExtremes","x":-0.4,"n":1.9},{"p":"SpatialExtremes","x":-0.35,"n":2},{"p":"SpatialExtremes","x":-0.3,"n":2.1},{"p":"SpatialExtremes","x":-0.25,"n":2.2},{"p":"SpatialExtremes","x":-0.2,"n":2.3},{"p":"SpatialExtremes","x":-0.15,"n":2.4},{"p":"SpatialExtremes","x":-0.1,"n":2.6},{"p":"SpatialExtremes","x":-0.05,"n":2.8},{"p":"SpatialExtremes","x":0,"n":2.8},{"p":"SpatialExtremes","x":0.05,"n":2.6},{"p":"SpatialExtremes","x":0.1,"n":2.4},{"p":"SpatialExtremes","x":0.15,"n":2.2},{"p":"SpatialExtremes","x":0.2,"n":1.9},{"p":"SpatialExtremes","x":0.25,"n":1.6},{"p":"SpatialExtremes","x":0.3,"n":1.3},{"p":"SpatialExtremes","x":0.35,"n":1.1},
{"p":"tea","x":-0.55,"n":1.1},{"p":"tea","x":-0.5,"n":1.3},{"p":"tea","x":-0.45,"n":1.4},{"p":"tea","x":-0.4,"n":1.9},{"p":"tea","x":-0.35,"n":2},{"p":"tea","x":-0.3,"n":2.1},{"p":"tea","x":-0.25,"n":2.2},{"p":"tea","x":-0.2,"n":2.3},{"p":"tea","x":-0.15,"n":2.4},{"p":"tea","x":-0.1,"n":2.6},{"p":"tea","x":-0.05,"n":2.8},{"p":"tea","x":0,"n":2.8},{"p":"tea","x":0.05,"n":2.6},{"p":"tea","x":0.1,"n":2.4},{"p":"tea","x":0.15,"n":2.2},{"p":"tea","x":0.2,"n":1.9},{"p":"tea","x":0.25,"n":1.6},{"p":"tea","x":0.3,"n":1.3},{"p":"tea","x":0.35,"n":1.1},
{"p":"texmex","x":-0.55,"n":1.1},{"p":"texmex","x":-0.5,"n":1.3},{"p":"texmex","x":-0.45,"n":1.4},{"p":"texmex","x":-0.4,"n":1.9},{"p":"texmex","x":-0.35,"n":2},{"p":"texmex","x":-0.3,"n":2.1},{"p":"texmex","x":-0.25,"n":2.2},{"p":"texmex","x":-0.2,"n":2.3},{"p":"texmex","x":-0.15,"n":2.4},{"p":"texmex","x":-0.1,"n":2.6},{"p":"texmex","x":-0.05,"n":2.8},{"p":"texmex","x":0,"n":2.8},{"p":"texmex","x":0.05,"n":2.6},{"p":"texmex","x":0.1,"n":2.4},{"p":"texmex","x":0.15,"n":2.2},{"p":"texmex","x":0.2,"n":1.9},{"p":"texmex","x":0.25,"n":1.6},{"p":"texmex","x":0.3,"n":1.3},{"p":"texmex","x":0.35,"n":1.1}
],
"RD": [
{"p":"ercv","x":-0.895},{"p":"ercv","x":-0.686},{"p":"ercv","x":-0.613},{"p":"ercv","x":-0.598},{"p":"ercv","x":0.31},{"p":"ercv","x":0.33},{"p":"ercv","x":0.35},{"p":"ercv","x":0.37},{"p":"ercv","x":0.39},{"p":"ercv","x":0.426},
{"p":"eva","x":-0.895},{"p":"eva","x":-0.686},{"p":"eva","x":-0.619},{"p":"eva","x":-0.605},{"p":"eva","x":-0.58},{"p":"eva","x":0.41},{"p":"eva","x":0.426},{"p":"eva","x":0.678},
{"p":"evd","x":-0.486},{"p":"evd","x":-0.368},{"p":"evd","x":0.246},
{"p":"evir","x":-0.895},{"p":"evir","x":-0.686},{"p":"evir","x":-0.613},{"p":"evir","x":-0.598},{"p":"evir","x":0.41},{"p":"evir","x":0.426},{"p":"evir","x":0.678},
{"p":"extRemes","x":-0.6},{"p":"extRemes","x":-0.537},{"p":"extRemes","x":-0.506},{"p":"extRemes","x":-0.455},{"p":"extRemes","x":0.41},{"p":"extRemes","x":0.426},{"p":"extRemes","x":0.67},
{"p":"fExtremes","x":-0.895},{"p":"fExtremes","x":-0.686},{"p":"fExtremes","x":-0.613},{"p":"fExtremes","x":-0.598},{"p":"fExtremes","x":0.41},{"p":"fExtremes","x":0.426},{"p":"fExtremes","x":0.678},
{"p":"ismev","x":-0.895},{"p":"ismev","x":-0.686},{"p":"ismev","x":-0.613},{"p":"ismev","x":-0.598},{"p":"ismev","x":0.41},{"p":"ismev","x":0.426},{"p":"ismev","x":0.678},
{"p":"mev","x":-0.895},{"p":"mev","x":-0.686},{"p":"mev","x":-0.613},{"p":"mev","x":-0.598},{"p":"mev","x":0.41},{"p":"mev","x":0.426},{"p":"mev","x":0.678},
{"p":"POT","x":-0.486},{"p":"POT","x":-0.368},{"p":"POT","x":0.246},
{"p":"QRM","x":-0.895},{"p":"QRM","x":-0.686},{"p":"QRM","x":-0.613},{"p":"QRM","x":-0.598},{"p":"QRM","x":0.41},{"p":"QRM","x":0.426},{"p":"QRM","x":0.678},
{"p":"qrmtools","x":-0.895},{"p":"qrmtools","x":-0.686},{"p":"qrmtools","x":-0.613},{"p":"qrmtools","x":-0.598},{"p":"qrmtools","x":0.41},{"p":"qrmtools","x":0.426},{"p":"qrmtools","x":0.678},
{"p":"ReIns","x":-0.895},{"p":"ReIns","x":-0.686},{"p":"ReIns","x":-0.613},{"p":"ReIns","x":-0.598},{"p":"ReIns","x":0.41},{"p":"ReIns","x":0.426},{"p":"ReIns","x":0.678},
{"p":"Renext","x":-0.895},{"p":"Renext","x":-0.686},{"p":"Renext","x":-0.613},{"p":"Renext","x":-0.598},{"p":"Renext","x":0.41},{"p":"Renext","x":0.426},{"p":"Renext","x":0.678},
{"p":"SpatialExtremes","x":-0.895},{"p":"SpatialExtremes","x":-0.686},{"p":"SpatialExtremes","x":-0.613},{"p":"SpatialExtremes","x":-0.598},{"p":"SpatialExtremes","x":0.41},{"p":"SpatialExtremes","x":0.426},{"p":"SpatialExtremes","x":0.678},
{"p":"tea","x":-0.895},{"p":"tea","x":-0.686},{"p":"tea","x":-0.619},{"p":"tea","x":-0.605},{"p":"tea","x":-0.58},{"p":"tea","x":0.41},{"p":"tea","x":0.426},{"p":"tea","x":0.678},
{"p":"texmex","x":-0.895},{"p":"texmex","x":-0.686},{"p":"texmex","x":-0.613},{"p":"texmex","x":-0.598},{"p":"texmex","x":0.41},{"p":"texmex","x":0.426},{"p":"texmex","x":0.678}
],
"RS": [
{"p":"ercv","x":0.0,"n":18.5},{"p":"extRemes","x":-0.003,"n":16}
]
},
"hconcat": [
{
 "width": 389, "height": 496,
 "layer": [
  {
   "data": {"name": "L"},
   "transform": [
    {"calculate": "indexof(['ercv','eva','evd','evir','extRemes','fExtremes','ismev','mev','POT','QRM','qrmtools','ReIns','Renext','SpatialExtremes','tea','texmex'], datum.p) + 1", "as": "i"},
    {"calculate": "datum.i - datum.n * 0.05", "as": "top"}
   ],
   "mark": {"type": "bar", "binSpacing": 0, "color": "#A6A6A6", "stroke": "#A6A6A6", "strokeWidth": 1},
   "encoding": {
    "x": {"field": "x", "type": "quantitative", "bin": {"binned": true, "step": 0.025}, "scale": {"domain": [-1.564, 0.758], "nice": false, "zero": false}, "axis": {"values": [-1.5, -1, -0.5, 0, 0.5], "format": ".1f"}, "title": "shape"},
    "y": {"field": "i", "type": "quantitative", "scale": {"domain": [-0.05, 16.58], "reverse": true, "nice": false, "zero": false}, "title": null},
    "y2": {"field": "top"}
   }
  },
  {
   "data": {"name": "LD"},
   "transform": [
    {"calculate": "indexof(['ercv','eva','evd','evir','extRemes','fExtremes','ismev','mev','POT','QRM','qrmtools','ReIns','Renext','SpatialExtremes','tea','texmex'], datum.p) + 1", "as": "i"}
   ],
   "mark": {"type": "point", "filled": true, "size": 6, "opacity": 1, "color": "#A6A6A6", "yOffset": -1},
   "encoding": {
    "x": {"field": "x", "type": "quantitative", "title": "shape"},
    "y": {"field": "i", "type": "quantitative", "title": null}
   }
  },
  {
   "data": {"name": "LS"},
   "transform": [
    {"calculate": "indexof(['ercv','eva','evd','evir','extRemes','fExtremes','ismev','mev','POT','QRM','qrmtools','ReIns','Renext','SpatialExtremes','tea','texmex'], datum.p) + 1", "as": "i"},
    {"calculate": "datum.i - datum.n * 0.05", "as": "top"}
   ],
   "mark": {"type": "rule", "strokeWidth": 2.5, "color": "#A6A6A6"},
   "encoding": {
    "x": {"field": "x", "type": "quantitative", "title": "shape"},
    "y": {"field": "i", "type": "quantitative", "title": null},
    "y2": {"field": "top"}
   }
  }
 ]
},
{
 "width": 386, "height": 496,
 "layer": [
  {
   "data": {"name": "R"},
   "transform": [
    {"calculate": "indexof(['ercv','eva','evd','evir','extRemes','fExtremes','ismev','mev','POT','QRM','qrmtools','ReIns','Renext','SpatialExtremes','tea','texmex'], datum.p) + 1", "as": "i"},
    {"calculate": "datum.i - datum.n * 0.05", "as": "top"}
   ],
   "mark": {"type": "bar", "binSpacing": 0, "color": "#A6A6A6", "stroke": "#A6A6A6", "strokeWidth": 0.6},
   "encoding": {
    "x": {"field": "x", "type": "quantitative", "bin": {"binned": true, "step": 0.05}, "scale": {"domain": [-0.977, 0.741], "nice": false, "zero": false}, "axis": {"values": [-0.5, 0, 0.5], "format": ".1f"}, "title": "shape"},
    "y": {"field": "i", "type": "quantitative", "scale": {"domain": [-0.05, 16.58], "reverse": true, "nice": false, "zero": false}, "title": null},
    "y2": {"field": "top"}
   }
  },
  {
   "data": {"name": "RD"},
   "transform": [
    {"calculate": "indexof(['ercv','eva','evd','evir','extRemes','fExtremes','ismev','mev','POT','QRM','qrmtools','ReIns','Renext','SpatialExtremes','tea','texmex'], datum.p) + 1", "as": "i"}
   ],
   "mark": {"type": "point", "filled": true, "size": 6, "opacity": 1, "color": "#A6A6A6", "yOffset": -1},
   "encoding": {
    "x": {"field": "x", "type": "quantitative", "title": "shape"},
    "y": {"field": "i", "type": "quantitative", "title": null}
   }
  },
  {
   "data": {"name": "RS"},
   "transform": [
    {"calculate": "indexof(['ercv','eva','evd','evir','extRemes','fExtremes','ismev','mev','POT','QRM','qrmtools','ReIns','Renext','SpatialExtremes','tea','texmex'], datum.p) + 1", "as": "i"},
    {"calculate": "datum.i - datum.n * 0.05", "as": "top"}
   ],
   "mark": {"type": "rule", "strokeWidth": 3, "color": "#A6A6A6"},
   "encoding": {
    "x": {"field": "x", "type": "quantitative", "title": "shape"},
    "y": {"field": "i", "type": "quantitative", "title": null},
    "y2": {"field": "top"}
   }
  }
 ]
}
]
}
